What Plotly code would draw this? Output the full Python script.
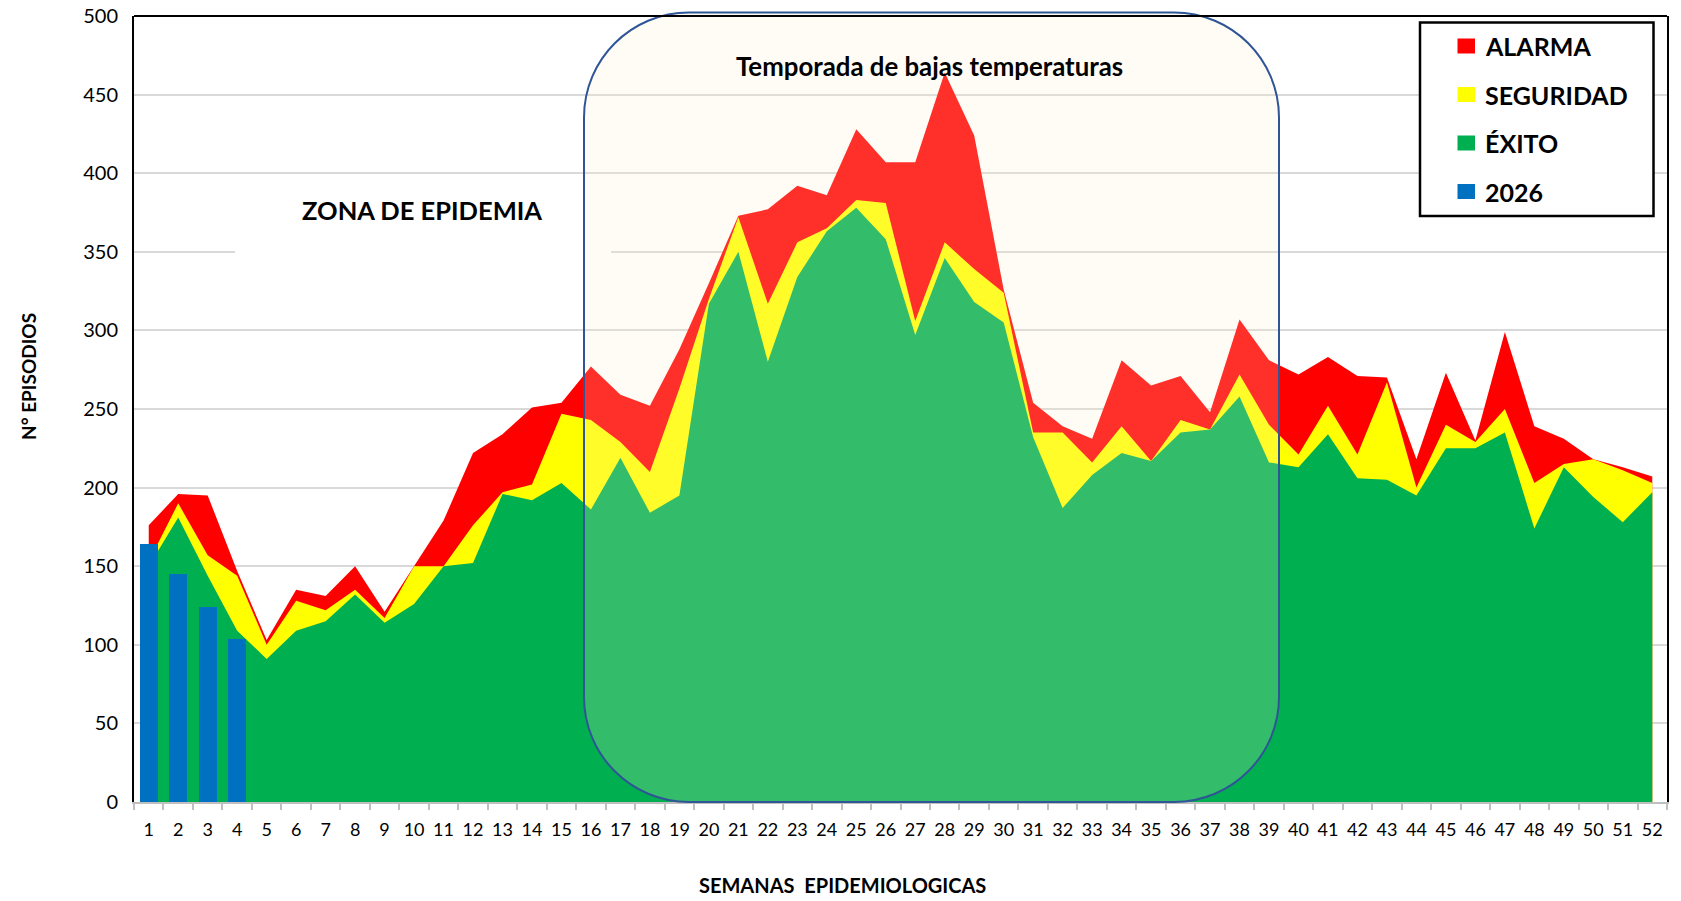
import plotly.graph_objects as go

# datos del canal endémico (semanas epidemiológicas)
semanas = list(range(1, 53))
alarma = [176, 196, 195, 147, 103, 135, 131, 150, 121, 150, 179, 222, 234,
          251, 254, 277, 259, 252, 288, 330, 373, 377, 392, 386, 428, 407,
          407, 464, 424, 326, 254, 239, 231, 281, 265, 271, 248, 307, 281,
          272, 283, 271, 270, 218, 273, 230, 299, 239, 231, 218, 213, 207]
seguridad = [153, 190, 157, 144, 100, 128, 122, 135, 117, 150, 150, 176, 197,
             202, 247, 243, 229, 210, 263, 320, 372, 317, 356, 365, 383, 381,
             306, 356, 339, 324, 235, 235, 216, 239, 217, 243, 237, 272, 240,
             221, 252, 221, 267, 200, 240, 229, 250, 203, 215, 218, 211, 203]
exito = [150, 181, 144, 109, 91, 109, 115, 132, 114, 126, 150, 152, 196,
         192, 203, 186, 219, 184, 195, 317, 350, 280, 334, 363, 378, 358,
         297, 346, 318, 305, 232, 187, 208, 222, 217, 235, 237, 258, 216,
         213, 234, 206, 205, 195, 225, 225, 235, 174, 213, 194, 178, 197]

semanas_2026 = [1, 2, 3, 4]
casos_2026 = [164, 145, 124, 104]

series = [("ALARMA", alarma, "#FF0000"),
          ("SEGURIDAD", seguridad, "#FFFF00"),
          ("ÉXITO", exito, "#00B050")]
color_2026 = "#0070C0"

FONT = "Lato"
W, H = 1681, 901
L, R, T, B = 134, 14, 16, 99
PW, PH = W - L - R, H - T - B
X0, Y0 = L, H - B  # esquina inferior izquierda del área


def px(x):
    return (x - X0) / PW


def py(y):
    return (Y0 - y) / PH


def dx(x):
    return 0.5 + px(x) * 52


def dy(y):
    return py(y) * 500


fig = go.Figure()

for nombre, vals, color in series:
    fig.add_trace(go.Scatter(
        x=semanas, y=vals, name=nombre, mode="lines", fill="tozeroy",
        line=dict(width=0, color=color), fillcolor=color,
        showlegend=False, hoverinfo="x+y+name"
    ))

# barras 2026 en un eje superpuesto para que queden sobre las áreas
fig.add_trace(go.Bar(
    x=semanas_2026, y=casos_2026, name="2026", yaxis="y2",
    marker=dict(color=color_2026, line=dict(width=0)), width=0.62,
    showlegend=False
))

shapes = []
annotations = []

# caja blanca detrás del texto "ZONA DE EPIDEMIA" (tapa la grilla)
shapes.append(dict(type="rect", xref="x", yref="y",
                   x0=dx(235), x1=dx(611), y0=dy(262), y1=dy(180),
                   fillcolor="white", line=dict(width=0), layer="between"))

# temporada de bajas temperaturas: rectángulo redondeado
x0, x1 = px(584), px(1279)
y0, y1 = py(802), py(12.5)
rx, ry = 105 / PW, 105 / PH
k = 0.4477
path = (f"M{x0},{y0 + ry} L{x0},{y1 - ry} "
        f"C{x0},{y1 - ry * k} {x0 + rx * k},{y1} {x0 + rx},{y1} "
        f"L{x1 - rx},{y1} "
        f"C{x1 - rx * k},{y1} {x1},{y1 - ry * k} {x1},{y1 - ry} "
        f"L{x1},{y0 + ry} "
        f"C{x1},{y0 + ry * k} {x1 - rx * k},{y0} {x1 - rx},{y0} "
        f"L{x0 + rx},{y0} "
        f"C{x0 + rx * k},{y0} {x0},{y0 + ry * k} {x0},{y0 + ry} Z")
shapes.append(dict(type="path", xref="paper", yref="paper", path=path,
                   fillcolor="rgba(255,242,204,0.2)",
                   line=dict(color="#2F5597", width=2), layer="above"))

# borde superior del área de trazado
shapes.append(dict(type="line", xref="paper", yref="paper",
                   x0=0, x1=1, y0=1, y1=1,
                   line=dict(color="black", width=2), layer="above"))

# leyenda manual
shapes.append(dict(type="rect", xref="paper", yref="paper",
                   x0=px(1420), x1=px(1653.5), y0=py(216), y1=py(22.5),
                   fillcolor="white", line=dict(color="black", width=2.5),
                   layer="above"))
items = [(n, c) for n, _, c in series] + [("2026", color_2026)]
for i, (nombre, color) in enumerate(items):
    yc = 46 + i * 48.5
    shapes.append(dict(type="rect", xref="paper", yref="paper",
                       x0=px(1457.5), x1=px(1475), y0=py(yc + 7.5),
                       y1=py(yc - 7.5), fillcolor=color,
                       line=dict(width=0), layer="above"))
    annotations.append(dict(text=nombre, xref="paper", yref="paper",
                            x=px(1483), y=py(yc), xanchor="left",
                            yanchor="middle", showarrow=False,
                            font=dict(family=FONT, size=25, color="black",
                                      weight="bold")))

textos = [
    ("ZONA DE EPIDEMIA", 422, 210, 25.5, 0),
    ("Temporada de bajas temperaturas", 929, 66, 25.8, 0),
    ("N° EPISODIOS", 28, 377, 19, -90),
    ("SEMANAS  EPIDEMIOLOGICAS", 842, 885, 20, 0),
]
for txt, tx, ty, size, ang in textos:
    annotations.append(dict(text=txt, xref="paper", yref="paper",
                            x=px(tx), y=py(ty), xanchor="center",
                            yanchor="middle", textangle=ang,
                            showarrow=False,
                            font=dict(family=FONT, size=size, color="black",
                                      weight="bold")))

fig.update_layout(
    width=W, height=H,
    margin=dict(l=L, r=R, t=T, b=B, autoexpand=False),
    paper_bgcolor="white", plot_bgcolor="white",
    showlegend=False,
    bargap=0,
    font=dict(family=FONT, color="black"),
    xaxis=dict(
        range=[0.5, 52.5], tickvals=semanas,
        ticktext=[str(s) for s in semanas],
        tickfont=dict(family=FONT, size=18, color="black"),
        ticks="", ticklabelstandoff=11, automargin=False,
        showgrid=False, zeroline=False,
        showline=True, linecolor="#BFBFBF", linewidth=1.5,
        minor=dict(tickvals=[s + 0.5 for s in [0] + semanas],
                   ticks="outside", ticklen=6, tickcolor="#BFBFBF",
                   tickwidth=1.5, showgrid=False),
        fixedrange=True
    ),
    yaxis=dict(
        range=[0, 500], dtick=50,
        tickfont=dict(family=FONT, size=20, color="black"),
        ticks="", ticklabelstandoff=10, ticklabeloverflow="allow",
        automargin=False,
        showgrid=True, gridcolor="#D9D9D9", gridwidth=1.5,
        zeroline=False,
        showline=True, linecolor="black", linewidth=2, mirror=True,
        fixedrange=True
    ),
    yaxis2=dict(range=[0, 500], overlaying="y", visible=False,
                automargin=False, fixedrange=True),
    shapes=shapes,
    annotations=annotations,
)

# sin margen en el body para que la figura ocupe toda la ventana
fig.write_html("out.html",
               config=dict(displayModeBar=False),
               post_script="document.body.style.margin='0';")
